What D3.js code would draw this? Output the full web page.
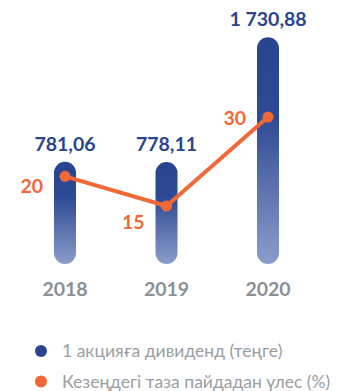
<!DOCTYPE html>
<html>
<head>
<meta charset="utf-8">
<script src="https://cdn.jsdelivr.net/npm/d3@7"></script>
<style>
  html, body { margin: 0; padding: 0; background: #ffffff; }
  svg { display: block; }
  text { font-family: Lato, "Open Sans", sans-serif; }
</style>
</head>
<body>
<svg id="chart" width="343" height="391"></svg>
<script>
// Dividend per share and payout share by year
const years = ["2018", "2019", "2020"];
const dividend = [781.06, 778.11, 1730.88];
const dividendLabels = ["781,06", "778,11", "1 730,88"];
const payout = [20, 15, 30];
const legendLabels = ["1 акцияға дивиденд (теңге)", "Кезеңдегі таза пайдадан үлес (%)"];

const blue = "#2a4590";
const orange = "#f26937";
const grey = "#8a9096";

const svg = d3.select("#chart");

const x = d3.scalePoint().domain(years).range([65, 268]);
const yBar = d3.scaleLinear().domain([0, 1730.88]).range([264, 37.3]);
const yLine = d3.scaleLinear().domain([15, 30]).range([206, 117]);

const barW = 22;

const defs = svg.append("defs");
const grad = defs.append("linearGradient")
  .attr("id", "barGrad").attr("x1", 0).attr("y1", 0).attr("x2", 0).attr("y2", 1);
grad.append("stop").attr("offset", "0%").attr("stop-color", "#28448f");
grad.append("stop").attr("offset", "35%").attr("stop-color", "#2e4a94");
grad.append("stop").attr("offset", "100%").attr("stop-color", "#8b9dca");

// rounded pillars
svg.append("g").selectAll("rect").data(dividend).join("rect")
  .attr("x", (d, i) => x(years[i]) - barW / 2)
  .attr("y", d => yBar(d))
  .attr("width", barW)
  .attr("height", d => yBar(0) - yBar(d))
  .attr("rx", barW / 2)
  .attr("fill", "url(#barGrad)");

// dividend value labels
svg.append("g").selectAll("text").data(dividend).join("text")
  .attr("x", (d, i) => x(years[i]))
  .attr("y", d => yBar(d) - 11)
  .attr("text-anchor", "middle")
  .attr("font-size", 19.5)
  .attr("font-weight", 700)
  .attr("fill", blue)
  .text((d, i) => dividendLabels[i]);

// payout line
const line = d3.line().x((d, i) => x(years[i])).y(d => yLine(d));
svg.append("path").datum(payout)
  .attr("d", line)
  .attr("fill", "none")
  .attr("stroke", orange)
  .attr("stroke-width", 4)
  .attr("stroke-linejoin", "round");

svg.append("g").selectAll("circle").data(payout).join("circle")
  .attr("cx", (d, i) => x(years[i]))
  .attr("cy", d => yLine(d))
  .attr("r", 5.5)
  .attr("fill", orange);

svg.append("g").selectAll("text").data(payout).join("text")
  .attr("x", (d, i) => x(years[i]) - 22)
  .attr("y", (d, i) => yLine(d) + (i === 0 ? 17 : i === 1 ? 23 : 8))
  .attr("text-anchor", "end")
  .attr("font-size", 19.5)
  .attr("font-weight", 700)
  .attr("fill", orange)
  .text(d => d);

// year axis labels
svg.append("g").selectAll("text").data(years).join("text")
  .attr("x", d => x(d))
  .attr("y", 296)
  .attr("text-anchor", "middle")
  .attr("font-size", 19.5)
  .attr("font-weight", 700)
  .attr("fill", grey)
  .text(d => d);

// legend
const legend = svg.append("g").selectAll("g").data(legendLabels).join("g")
  .attr("transform", (d, i) => `translate(41, ${351 + i * 30.5})`);
legend.append("circle").attr("r", 6).attr("fill", (d, i) => i === 0 ? blue : orange);
legend.append("text")
  .attr("x", 21).attr("y", 6)
  .attr("font-size", 17.5)
  .attr("fill", "#9a9ea2")
  .text(d => d);
</script>
</body>
</html>
